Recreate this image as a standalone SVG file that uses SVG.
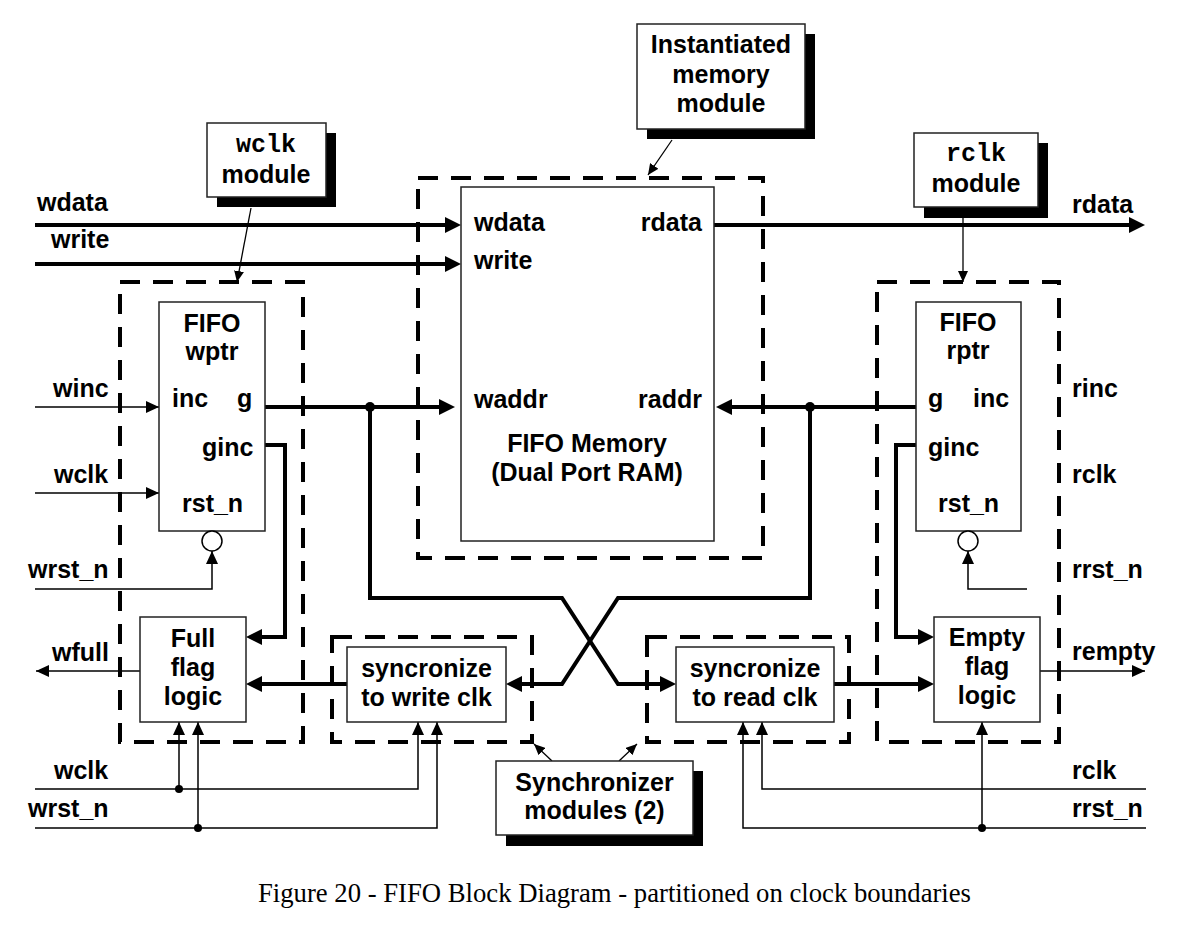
<svg xmlns="http://www.w3.org/2000/svg" width="1178" height="932" viewBox="0 0 1178 932">
<style>
.t{font-family:"Liberation Sans",Arial,sans-serif;font-weight:bold;font-size:25px;fill:#000}
.m{font-family:"Liberation Mono","Courier New",monospace;font-weight:bold;font-size:25px;fill:#000}
.c{text-anchor:middle}
.e{text-anchor:end}
.box{fill:#fff;stroke:#222;stroke-width:1.5}
.sh{fill:#000}
.dash{fill:none;stroke:#000;stroke-width:4;stroke-dasharray:20 13}
.thick{fill:none;stroke:#000;stroke-width:4}
.thin{fill:none;stroke:#000;stroke-width:1.5}
.call{fill:none;stroke:#000;stroke-width:1.3}
.dot{fill:#000}
.bub{fill:#fff;stroke:#000;stroke-width:1.5}
.cap{font-family:"Liberation Serif","Times New Roman",serif;font-size:26.7px;fill:#000}
</style>
<defs>
<marker id="ah" markerUnits="userSpaceOnUse" viewBox="0 0 16 16" markerWidth="16" markerHeight="16" refX="8" refY="8" orient="auto"><path d="M0,0 L16,8 L0,16 Z" fill="#000"/></marker>
<marker id="at" markerUnits="userSpaceOnUse" viewBox="0 0 13 12" markerWidth="13" markerHeight="12" refX="13" refY="6" orient="auto"><path d="M0,0 L13,6 L0,12 Z" fill="#000"/></marker>
<marker id="ac" markerUnits="userSpaceOnUse" viewBox="0 0 11 10" markerWidth="11" markerHeight="10" refX="11" refY="5" orient="auto"><path d="M0,0 L11,5 L0,10 Z" fill="#000"/></marker>
</defs>
<rect width="1178" height="932" fill="#fff"/>

<g id="partitions">
<rect class="dash" x="120" y="282" width="183" height="460"/>
<rect class="dash" x="877" y="282" width="182" height="460"/>
<rect class="dash" x="418" y="178" width="345" height="380"/>
<rect class="dash" x="332" y="637" width="200" height="105"/>
<rect class="dash" x="647" y="637" width="202" height="105"/>
</g>

<g id="connectors">
<path class="thick" d="M35,225 H453" marker-end="url(#ah)"/>
<path class="thick" d="M35,264 H453" marker-end="url(#ah)"/>
<path class="thick" d="M714,225 H1137" marker-end="url(#ah)"/>
<path class="thick" d="M265,407 H447" marker-end="url(#ah)"/>
<path class="thick" d="M916,407 H724" marker-end="url(#ah)"/>
<path class="thick" d="M370,407 V598 H562 L618,684 H668" marker-end="url(#ah)"/>
<path class="thick" d="M810,407 V598 H618 L562,684 H514" marker-end="url(#ah)"/>
<path class="thick" d="M265,445 H285 V637 H254" marker-end="url(#ah)"/>
<path class="thick" d="M347,684 H254" marker-end="url(#ah)"/>
<path class="thick" d="M834,684 H926" marker-end="url(#ah)"/>
<path class="thick" d="M916,445 H896 V637 H926" marker-end="url(#ah)"/>
<circle class="dot" cx="370" cy="407" r="5"/>
<circle class="dot" cx="810" cy="407" r="5"/>

<path class="thin" d="M35,407 H159" marker-end="url(#at)"/>
<path class="thin" d="M35,493 H159" marker-end="url(#at)"/>
<path class="thin" d="M35,589 H212 V551" marker-end="url(#at)"/>
<path class="thin" d="M140,671 H36" marker-end="url(#at)"/>
<path class="thin" d="M35,789 H418 V722" marker-end="url(#at)"/>
<path class="thin" d="M179,789 V722" marker-end="url(#at)"/>
<path class="thin" d="M35,828 H437 V722" marker-end="url(#at)"/>
<path class="thin" d="M198,828 V722" marker-end="url(#at)"/>
<circle class="dot" cx="179" cy="789" r="4"/>
<circle class="dot" cx="198" cy="828" r="4"/>

<path class="thin" d="M1027,589 H968 V551" marker-end="url(#at)"/>
<path class="thin" d="M1040,671 H1145" marker-end="url(#at)"/>
<path class="thin" d="M1146,789 H762 V722" marker-end="url(#at)"/>
<path class="thin" d="M1146,828 H743 V722" marker-end="url(#at)"/>
<path class="thin" d="M982,828 V722" marker-end="url(#at)"/>
<circle class="dot" cx="982" cy="828" r="4"/>

<path class="call" d="M251,208 L237,282" marker-end="url(#ac)"/>
<path class="call" d="M672,140 L648,175" marker-end="url(#ac)"/>
<path class="call" d="M963,218 V282" marker-end="url(#ac)"/>
<path class="call" d="M552,761 L534,744" marker-end="url(#ac)"/>
<path class="call" d="M619,761 L637,744" marker-end="url(#ac)"/>
</g>

<g id="labels">
<text class="t" x="37" y="211">wdata</text>
<text class="t" x="51" y="248">write</text>
<text class="t" x="53" y="397">winc</text>
<text class="t" x="54" y="483">wclk</text>
<text class="t" x="28" y="578">wrst_n</text>
<text class="t" x="52" y="661">wfull</text>
<text class="t" x="54" y="779">wclk</text>
<text class="t" x="28" y="817">wrst_n</text>
<text class="t" x="1072" y="213">rdata</text>
<text class="t" x="1072" y="397">rinc</text>
<text class="t" x="1072" y="483">rclk</text>
<text class="t" x="1072" y="578">rrst_n</text>
<text class="t" x="1072" y="660">rempty</text>
<text class="t" x="1072" y="779">rclk</text>
<text class="t" x="1072" y="817">rrst_n</text>
</g>

<g id="wclk_module">
<rect class="sh" x="217" y="133" width="119" height="74"/>
<rect class="box" x="207" y="123" width="119" height="74"/>
<text class="m c" x="266" y="152">wclk</text>
<text class="t c" x="266" y="183">module</text>
</g>

<g id="instantiated_memory">
<rect class="sh" x="647" y="34" width="168" height="105"/>
<rect class="box" x="637" y="24" width="168" height="105"/>
<text class="t c" x="721" y="53">Instantiated</text>
<text class="t c" x="721" y="83">memory</text>
<text class="t c" x="721" y="112">module</text>
</g>

<g id="rclk_module">
<rect class="sh" x="924" y="143" width="124" height="75"/>
<rect class="box" x="914" y="133" width="124" height="74"/>
<text class="m c" x="976" y="161">rclk</text>
<text class="t c" x="976" y="192">module</text>
</g>

<g id="fifo_memory">
<rect class="box" x="461" y="187" width="253" height="354"/>
<text class="t" x="474" y="231">wdata</text>
<text class="t" x="474" y="269">write</text>
<text class="t e" x="702" y="231">rdata</text>
<text class="t" x="474" y="408">waddr</text>
<text class="t e" x="702" y="408">raddr</text>
<text class="t c" x="587" y="452">FIFO Memory</text>
<text class="t c" x="587" y="481">(Dual Port RAM)</text>
</g>

<g id="fifo_wptr">
<rect class="box" x="159" y="302" width="106" height="229"/>
<text class="t c" x="212" y="332">FIFO</text>
<text class="t c" x="212" y="360">wptr</text>
<text class="t" x="172" y="407">inc</text>
<text class="t" x="237" y="407">g</text>
<text class="t" x="202" y="456">ginc</text>
<text class="t" x="182" y="512">rst_n</text>
<circle class="bub" cx="212" cy="541" r="10"/>
</g>

<g id="fifo_rptr">
<rect class="box" x="916" y="302" width="105" height="229"/>
<text class="t c" x="968" y="331">FIFO</text>
<text class="t c" x="968" y="359">rptr</text>
<text class="t" x="928" y="407">g</text>
<text class="t" x="973" y="407">inc</text>
<text class="t" x="928" y="456">ginc</text>
<text class="t" x="938" y="512">rst_n</text>
<circle class="bub" cx="968" cy="541" r="10"/>
</g>

<g id="full_flag">
<rect class="box" x="140" y="617" width="106" height="105"/>
<text class="t c" x="193" y="647">Full</text>
<text class="t c" x="193" y="676">flag</text>
<text class="t c" x="193" y="705">logic</text>
</g>

<g id="empty_flag">
<rect class="box" x="934" y="617" width="106" height="105"/>
<text class="t c" x="987" y="646">Empty</text>
<text class="t c" x="987" y="675">flag</text>
<text class="t c" x="987" y="704">logic</text>
</g>

<g id="sync_write">
<rect class="box" x="347" y="647" width="159" height="75"/>
<text class="t c" x="426.5" y="677">syncronize</text>
<text class="t c" x="426.5" y="706">to write clk</text>
</g>

<g id="sync_read">
<rect class="box" x="676" y="647" width="158" height="75"/>
<text class="t c" x="755" y="677">syncronize</text>
<text class="t c" x="755" y="706">to read clk</text>
</g>

<g id="synchronizer_modules">
<rect class="sh" x="506" y="771" width="197" height="75"/>
<rect class="box" x="496" y="761" width="197" height="74"/>
<text class="t c" x="594.5" y="791">Synchronizer</text>
<text class="t c" x="594.5" y="819">modules (2)</text>
</g>

<text class="cap" x="258" y="902">Figure 20 - FIFO Block Diagram - partitioned on clock boundaries</text>
</svg>
